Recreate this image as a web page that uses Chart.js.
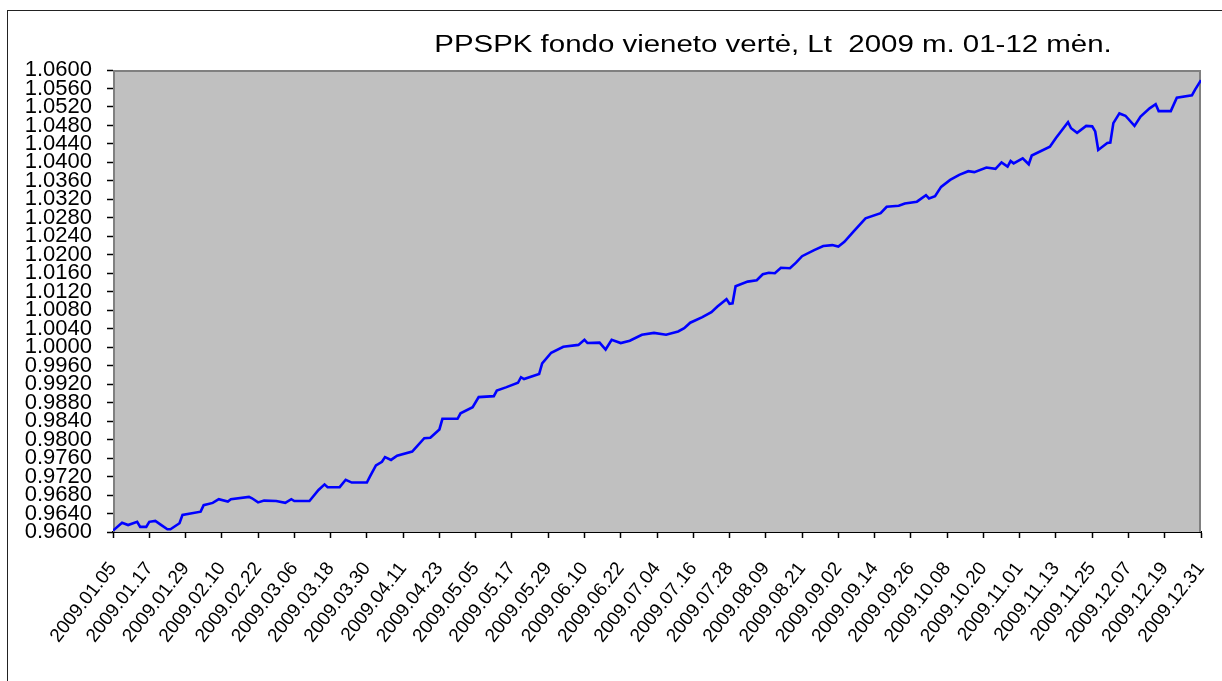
<!DOCTYPE html>
<html>
<head>
<meta charset="utf-8">
<script src="https://cdn.jsdelivr.net/npm/chart.js@4.4.1/dist/chart.umd.min.js"></script>
<style>
  html, body { margin: 0; padding: 0; background: #fff; overflow: hidden; }
  #frame { position: absolute; left: 7px; top: 10px; width: 1240px; height: 700px; border: 1px solid #222; }
  #chart { position: absolute; left: 0; top: 0; }
</style>
</head>
<body>
<div id="frame"></div>
<canvas id="chart" width="1222" height="681"></canvas>
<script>
// Dienos nuo 2009.01.05 ir fondo vieneto vertė
const days = [0, 3, 5, 8, 9, 11, 12, 14, 16, 18, 19, 22, 23, 29, 30, 33, 35, 38, 39, 45, 46, 48, 50, 54, 57, 59, 60, 65, 68, 70, 71, 75, 77, 79, 84, 85, 87, 89, 90, 92, 94,
    99, 103, 105, 108, 109, 114, 115, 119, 121, 126, 127, 130, 134, 135, 136, 141, 142, 145, 149, 154, 156, 157, 161, 163, 165, 168, 171, 175, 179, 183, 187, 189, 191,
    195, 198, 200, 203, 204, 205, 206, 210, 213, 215, 217, 219, 221, 224, 226, 228, 232, 235, 238, 240, 242, 245, 249, 254, 256, 260, 262, 266, 269, 270, 272, 274, 277,
    280, 283, 285, 289, 292, 294, 296, 297, 298, 301, 303, 304, 310, 312, 316, 317, 319, 322, 324, 325, 326, 329, 330, 331, 333, 335, 338, 340, 343, 345, 346, 350, 352, 357, 358, 360];

const values = [0.9603, 0.9620, 0.9615, 0.9622, 0.9611, 0.9611, 0.9622, 0.9624, 0.9615, 0.9606, 0.9606, 0.9619, 0.9637, 0.9644, 0.9658, 0.9663, 0.9671, 0.9666, 0.9671, 0.9676, 0.9673, 0.9664, 0.9668, 0.9667, 0.9663, 0.9671, 0.9667, 0.9667, 0.9691, 0.9703, 0.9697, 0.9697, 0.9713, 0.9707, 0.9707, 0.9720, 0.9744, 0.9752, 0.9762, 0.9756, 0.9765,
    0.9774, 0.9803, 0.9804, 0.9822, 0.9845, 0.9845, 0.9857, 0.9870, 0.9892, 0.9894, 0.9906, 0.9913, 0.9923, 0.9935, 0.9931, 0.9942, 0.9965, 0.9988, 1.0001, 1.0005, 1.0016, 1.0009, 1.0010, 0.9995, 1.0016, 1.0009, 1.0014, 1.0027, 1.0031, 1.0027, 1.0034, 1.0041, 1.0053,
    1.0065, 1.0076, 1.0088, 1.0104, 1.0094, 1.0095, 1.0132, 1.0142, 1.0145, 1.0158, 1.0161, 1.0160, 1.0172, 1.0171, 1.0183, 1.0197, 1.0210, 1.0219, 1.0221, 1.0218, 1.0228, 1.0250, 1.0279, 1.0290, 1.0304, 1.0306, 1.0311, 1.0315, 1.0329, 1.0322, 1.0327, 1.0347, 1.0362,
    1.0373, 1.0381, 1.0379, 1.0389, 1.0386, 1.0400, 1.0391, 1.0403, 1.0398, 1.0409, 1.0396, 1.0415, 1.0434, 1.0453, 1.0487, 1.0474, 1.0464, 1.0479, 1.0478, 1.0467, 1.0427, 1.0442, 1.0443, 1.0485, 1.0506, 1.0501, 1.0479, 1.0499, 1.0517, 1.0526, 1.0511, 1.0511, 1.0540, 1.0545, 1.0557, 1.0578];

const tickDates = ['2009.01.05', '2009.01.17', '2009.01.29', '2009.02.10', '2009.02.22', '2009.03.06', '2009.03.18', '2009.03.30',
    '2009.04.11', '2009.04.23', '2009.05.05', '2009.05.17', '2009.05.29', '2009.06.10', '2009.06.22', '2009.07.04', '2009.07.16',
    '2009.07.28', '2009.08.09', '2009.08.21', '2009.09.02', '2009.09.14', '2009.09.26', '2009.10.08', '2009.10.20', '2009.11.01',
    '2009.11.13', '2009.11.25', '2009.12.07', '2009.12.19', '2009.12.31'];

const titleText = 'PPSPK fondo vieneto vertė, Lt  2009 m. 01-12 mėn.';

// pilkas fonas ir rėmelis
const plotBg = {
    id: 'plotBg',
    beforeDatasetsDraw(chart) {
        const {ctx, chartArea: a} = chart;
        ctx.save();
        ctx.fillStyle = '#c0c0c0';
        ctx.fillRect(a.left, a.top, a.right - a.left, a.bottom - a.top);
        ctx.strokeStyle = '#808080';
        ctx.lineWidth = 2;
        ctx.beginPath();
        ctx.moveTo(a.left + 1, a.bottom);
        ctx.lineTo(a.left + 1, a.top + 1);
        ctx.lineTo(a.right - 1, a.top + 1);
        ctx.lineTo(a.right - 1, a.bottom);
        ctx.stroke();
        ctx.restore();
    },
    afterDraw(chart) {
        const ctx = chart.ctx;
        ctx.save();
        ctx.font = '23px "Liberation Sans", Arial, sans-serif';
        ctx.fillStyle = '#000';
        ctx.textAlign = 'center';
        ctx.textBaseline = 'alphabetic';
        ctx.translate(773, 52);
        ctx.scale(1.28, 1);
        ctx.fillText(titleText, 0, 0);
        ctx.restore();
    }
};

const ctx = document.getElementById('chart').getContext('2d');
new Chart(ctx, {
    type: 'line',
    data: {
        datasets: [{
            data: days.map((d, i) => ({x: d, y: values[i]})),
            borderColor: '#0000ff',
            borderWidth: 2.6,
            pointRadius: 0,
            tension: 0,
            fill: false
        }]
    },
    options: {
        responsive: false,
        animation: false,
        layout: {padding: {top: 70, right: 21, left: 0, bottom: 0}},
        plugins: {
            legend: {display: false},
            title: {display: false},
            tooltip: {enabled: false}
        },
        scales: {
            x: {
                type: 'linear',
                min: 0,
                max: 360,
                afterFit(scale) {
                    scale.height = 149;
                    scale.paddingLeft = 0;
                    scale.paddingRight = 0;
                },
                border: {display: true, color: '#000', width: 2},
                grid: {drawOnChartArea: false, drawTicks: true, tickLength: 6, tickColor: '#000', tickWidth: 1.5},
                ticks: {
                    stepSize: 12,
                    autoSkip: false,
                    minRotation: 52,
                    maxRotation: 52,
                    padding: 20,
                    color: '#000',
                    font: {family: '"Liberation Sans", Arial, sans-serif', size: 19},
                    callback: (v) => tickDates[Math.round(v / 12)]
                }
            },
            y: {
                min: 0.96,
                max: 1.06,
                afterFit(scale) { scale.width = 113; },
                border: {display: false},
                grid: {drawOnChartArea: false, drawTicks: true, tickLength: 6, tickColor: '#000', tickWidth: 1.5},
                ticks: {
                    stepSize: 0.004,
                    autoSkip: false,
                    padding: 15,
                    color: '#000',
                    font: {family: '"Liberation Sans", Arial, sans-serif', size: 22},
                    callback: (v) => v.toFixed(4)
                }
            }
        }
    },
    plugins: [plotBg]
});
</script>
</body>
</html>
